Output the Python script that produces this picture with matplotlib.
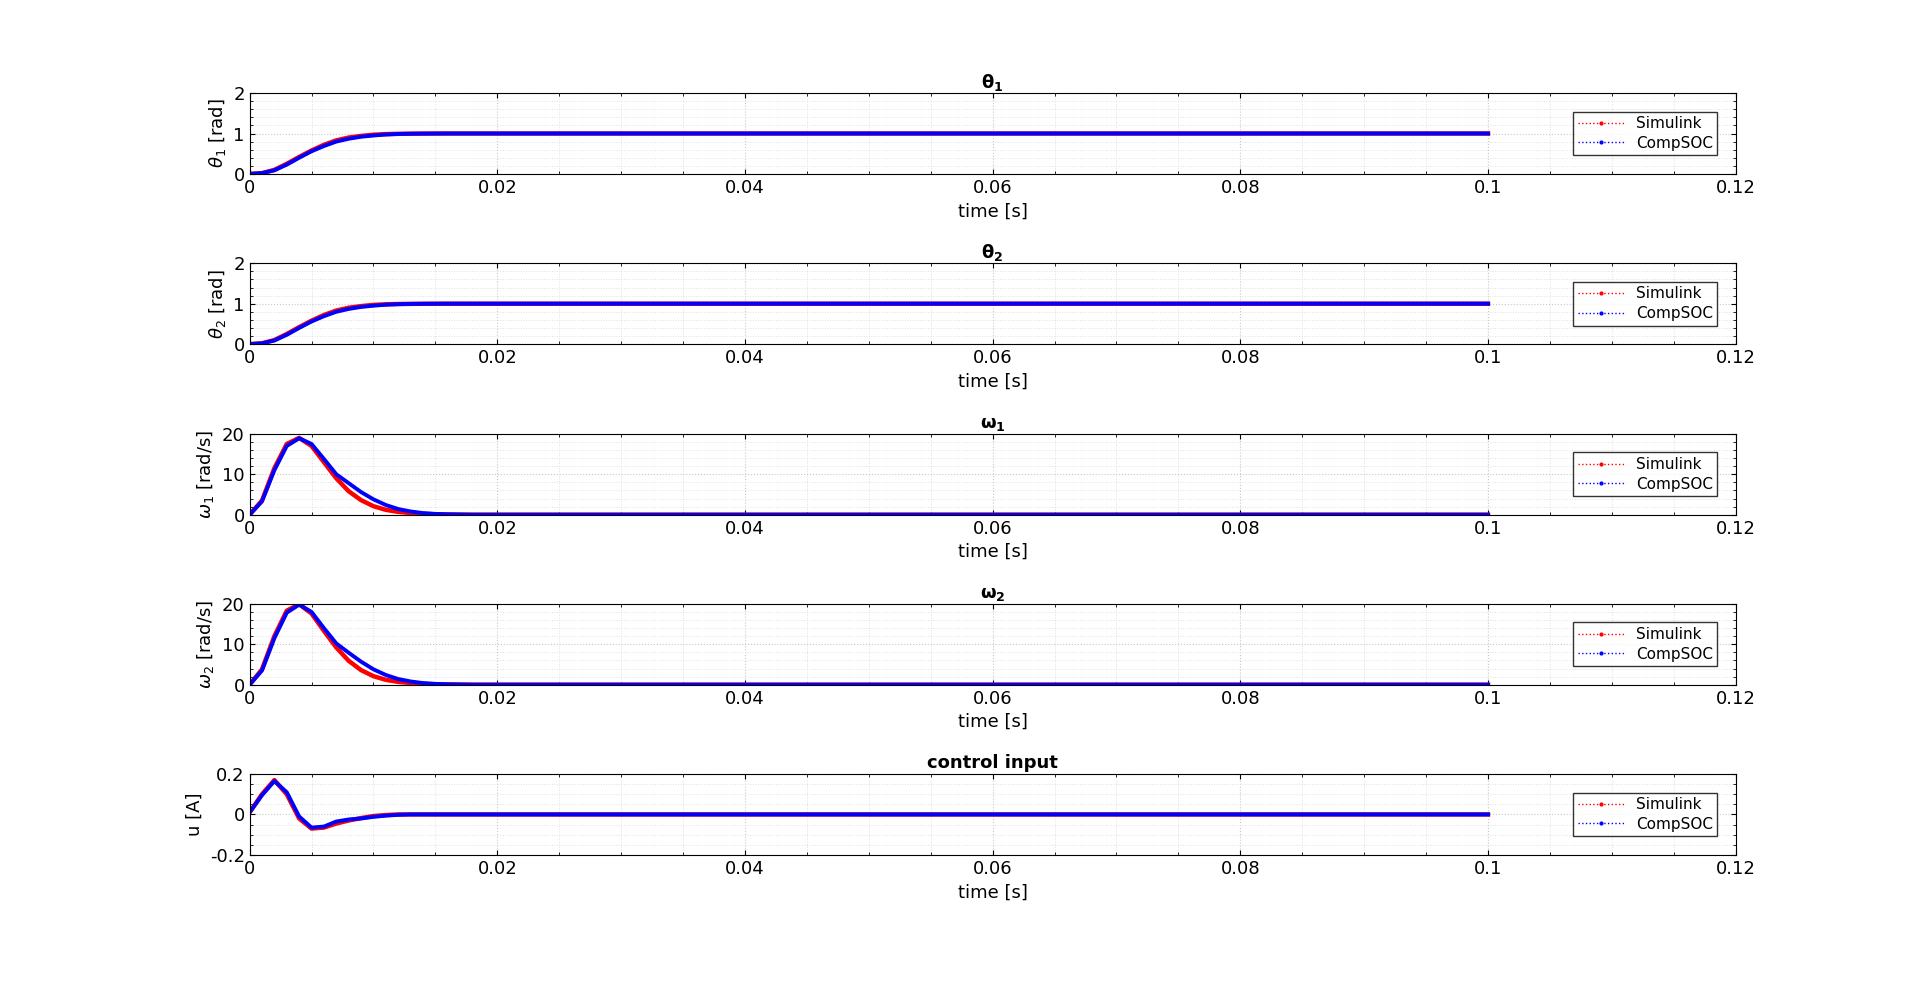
import numpy as np
import matplotlib.pyplot as plt
from matplotlib.lines import Line2D

# transient part (0 .. 0.02 s, step 1 ms), then steady state up to 0.1 s
t_tr = [0.000, 0.001, 0.002, 0.003, 0.004, 0.005, 0.006, 0.007, 0.008, 0.009, 0.010,
        0.011, 0.012, 0.013, 0.014, 0.015, 0.016, 0.017, 0.018, 0.019, 0.020]
t_ss = list(np.arange(21, 101) / 1000.0)

th1_sim = [0.0, 0.02, 0.10, 0.25, 0.42, 0.58, 0.72, 0.83, 0.90, 0.94, 0.97,
           0.985, 0.992, 0.996, 0.998, 0.999, 1.0, 1.0, 1.0, 1.0, 1.0]
th1_soc = [0.0, 0.02, 0.09, 0.23, 0.40, 0.56, 0.69, 0.80, 0.87, 0.92, 0.95,
           0.975, 0.988, 0.994, 0.997, 0.999, 1.0, 1.0, 1.0, 1.0, 1.0]
w1_sim = [0.0, 3.5, 11.5, 17.5, 19.0, 17.0, 13.0, 9.0, 5.8, 3.6, 2.1,
          1.2, 0.7, 0.4, 0.2, 0.1, 0.05, 0.02, 0.0, 0.0, 0.0]
w1_soc = [0.0, 3.3, 11.0, 17.0, 18.9, 17.5, 13.8, 10.0, 7.8, 5.6, 3.8,
          2.4, 1.4, 0.8, 0.4, 0.2, 0.1, 0.05, 0.0, 0.0, 0.0]
w2_sim = [0.0, 3.8, 12.0, 18.3, 19.9, 17.6, 13.3, 9.2, 5.9, 3.6, 2.1,
          1.2, 0.7, 0.4, 0.2, 0.1, 0.05, 0.02, 0.0, 0.0, 0.0]
w2_soc = [0.0, 3.5, 11.5, 17.8, 19.8, 18.0, 14.0, 10.2, 7.9, 5.7, 3.8,
          2.4, 1.4, 0.8, 0.4, 0.2, 0.1, 0.05, 0.0, 0.0, 0.0]
u_sim = [0.01, 0.10, 0.17, 0.10, -0.02, -0.07, -0.065, -0.045, -0.03, -0.018, -0.008,
         -0.003, 0.0, 0.0, 0.0, 0.0, 0.0, 0.0, 0.0, 0.0, 0.0]
u_soc = [0.01, 0.095, 0.165, 0.11, -0.01, -0.065, -0.06, -0.035, -0.025, -0.02, -0.012,
         -0.006, -0.002, 0.0, 0.0, 0.0, 0.0, 0.0, 0.0, 0.0, 0.0]

th2_sim, th2_soc = th1_sim, th1_soc
ss_theta = [1.0] * len(t_ss)
ss_zero = [0.0] * len(t_ss)

panels = [
    (r'$\mathbf{\theta_1}$', r'$\theta_1$ [rad]', th1_sim, th1_soc, ss_theta, [0, 1, 2], (0, 2)),
    (r'$\mathbf{\theta_2}$', r'$\theta_2$ [rad]', th2_sim, th2_soc, ss_theta, [0, 1, 2], (0, 2)),
    (r'$\mathbf{\omega_1}$', r'$\omega_1$ [rad/s]', w1_sim, w1_soc, ss_zero, [0, 10, 20], (0, 20)),
    (r'$\mathbf{\omega_2}$', r'$\omega_2$ [rad/s]', w2_sim, w2_soc, ss_zero, [0, 10, 20], (0, 20)),
    ('control input', 'u [A]', u_sim, u_soc, ss_zero, [-0.2, 0, 0.2], (-0.2, 0.2)),
]

fig = plt.figure(figsize=(19.2, 9.86), dpi=100)
bottoms = [0.8236, 0.651, 0.478, 0.3056, 0.133]
t = t_tr + t_ss
for (title, ylab, ys, yc, ss, yt, yl), b in zip(panels, bottoms):
    ax = fig.add_axes([0.130, b, 0.774, 0.082])
    ax.plot(t, ys + ss, '-', color='red', lw=3.2)
    ax.plot(t, yc + ss, '-', color='blue', lw=2.8)
    ax.set_xlim(0, 0.12)
    ax.set_ylim(*yl)
    ax.set_yticks(yt)
    ax.set_yticklabels([('%g' % v) for v in yt])
    ax.set_xticks([0, 0.02, 0.04, 0.06, 0.08, 0.1, 0.12])
    ax.set_xticklabels(['0', '0.02', '0.04', '0.06', '0.08', '0.1', '0.12'])
    ax.minorticks_on()
    ax.grid(which='major', ls=':', color='#c8c8c8', lw=0.8)
    ax.grid(which='minor', ls=':', color='#e0e0e0', lw=0.7)
    ax.tick_params(labelsize=13, direction='in', which='both', top=True, right=True)
    ax.set_xlabel('time [s]', fontsize=13)
    ax.set_ylabel(ylab, fontsize=13)
    ax.set_title(title, fontsize=13, fontweight='bold', pad=4)
    handles = [Line2D([], [], color='red', ls=':', marker='.', ms=4, lw=1),
               Line2D([], [], color='blue', ls=':', marker='.', ms=4, lw=1)]
    ax.legend(handles, ['Simulink', 'CompSOC'], loc='center right', fontsize=11,
              fancybox=False, edgecolor='black', handlelength=3, borderaxespad=1.2,
              labelspacing=0.3, borderpad=0.3)

fig.savefig('out.png', dpi=100)
